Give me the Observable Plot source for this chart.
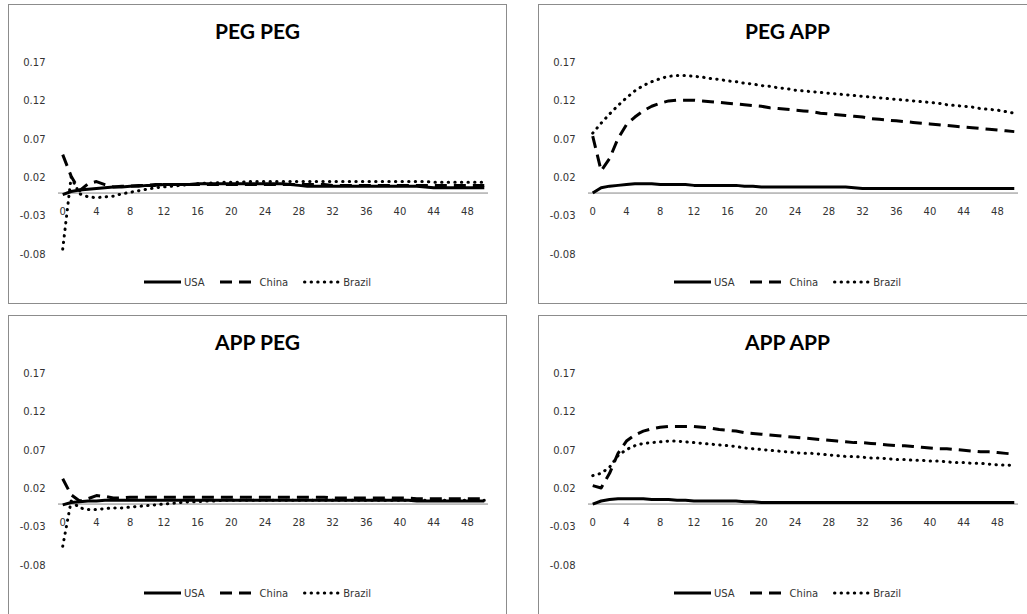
<!DOCTYPE html>
<html>
<head>
<meta charset="utf-8">
<script src="https://cdn.jsdelivr.net/npm/d3@7"></script>
<script src="https://cdn.jsdelivr.net/npm/@observablehq/plot@0.6"></script>
<style>
  html, body { margin: 0; padding: 0; background: #fff; }
  body { position: relative; width: 1027px; height: 614px; overflow: hidden; }
  .panel { position: absolute; box-sizing: border-box; width: 499px; height: 300px;
           border: 1px solid #8c8c8c; background: #fff; }
  .panel svg.chart { position: absolute; left: 0; top: 0; }
  .title { position: absolute; left: 0; right: 0; top: 14px; text-align: center;
           font: bold 21px Lato, "Open Sans", sans-serif; line-height: 24px; color: #000; }
  .legend { position: absolute; left: 0; right: 0; top: 270px; height: 14px; display: flex;
            justify-content: center; align-items: center;
            font: 10px "DejaVu Sans", sans-serif; color: #333; }
  .legend .item { display: flex; align-items: center; }
  .legend .item svg { display: block; margin-right: 3px; }
  .legend .item + .item { margin-left: 15px; }
</style>
</head>
<body>
<script>
// Impulse responses, horizon 0..50, for USA, China and Brazil under four regimes.
const horizon = d3.range(51);
const countries = ["USA", "China", "Brazil"];
const xTicks = [0, 4, 8, 12, 16, 20, 24, 28, 32, 36, 40, 44, 48];
const yTicks = [-0.08, -0.03, 0.02, 0.07, 0.12, 0.17];

const pegPegUSA = [
  -0.002, 0.002, 0.004, 0.005, 0.006, 0.007, 0.008, 0.008, 0.009, 0.009,
  0.010, 0.010, 0.011, 0.011, 0.011, 0.011, 0.012, 0.012, 0.012, 0.012,
  0.012, 0.012, 0.012, 0.012, 0.012, 0.012, 0.012, 0.011, 0.010, 0.009,
  0.009, 0.009, 0.009, 0.009, 0.009, 0.009, 0.009, 0.009, 0.009, 0.009,
  0.009, 0.009, 0.009, 0.008, 0.007, 0.007, 0.007, 0.007, 0.007, 0.007,
  0.007];
const pegPegChina = [
  0.050, 0.022, 0.003, 0.012, 0.015, 0.011, 0.008, 0.009, 0.009, 0.010,
  0.010, 0.011, 0.011, 0.011, 0.011, 0.011, 0.011, 0.011, 0.011, 0.011,
  0.011, 0.011, 0.011, 0.011, 0.011, 0.011, 0.011, 0.011, 0.011, 0.011,
  0.011, 0.011, 0.010, 0.010, 0.010, 0.010, 0.010, 0.010, 0.010, 0.010,
  0.010, 0.010, 0.010, 0.010, 0.010, 0.010, 0.010, 0.010, 0.010, 0.010,
  0.010];
const pegPegBrazil = [
  -0.073, 0.021, -0.001, -0.005, -0.006, -0.005, -0.004, -0.001, 0.001, 0.003,
  0.005, 0.007, 0.008, 0.009, 0.010, 0.011, 0.012, 0.013, 0.013, 0.014,
  0.014, 0.014, 0.015, 0.015, 0.015, 0.015, 0.015, 0.015, 0.015, 0.015,
  0.015, 0.015, 0.015, 0.015, 0.015, 0.015, 0.015, 0.015, 0.015, 0.015,
  0.015, 0.015, 0.015, 0.015, 0.014, 0.014, 0.014, 0.014, 0.014, 0.014,
  0.014];

const pegAppUSA = [
  0.000, 0.007, 0.009, 0.010, 0.011, 0.012, 0.012, 0.012, 0.011, 0.011,
  0.011, 0.011, 0.010, 0.010, 0.010, 0.010, 0.010, 0.010, 0.009, 0.009,
  0.008, 0.008, 0.008, 0.008, 0.008, 0.008, 0.008, 0.008, 0.008, 0.008,
  0.008, 0.007, 0.006, 0.006, 0.006, 0.006, 0.006, 0.006, 0.006, 0.006,
  0.006, 0.006, 0.006, 0.006, 0.006, 0.006, 0.006, 0.006, 0.006, 0.006,
  0.006];
const pegAppChina = [
  0.074, 0.029, 0.045, 0.071, 0.089, 0.099, 0.107, 0.113, 0.117, 0.120,
  0.121, 0.121, 0.121, 0.120, 0.119, 0.118, 0.117, 0.116, 0.115, 0.114,
  0.113, 0.111, 0.110, 0.109, 0.108, 0.107, 0.106, 0.104, 0.103, 0.102,
  0.101, 0.100, 0.099, 0.097, 0.096, 0.095, 0.094, 0.093, 0.092, 0.091,
  0.090, 0.089, 0.088, 0.087, 0.086, 0.085, 0.084, 0.083, 0.082, 0.081,
  0.080];
const pegAppBrazil = [
  0.078, 0.091, 0.103, 0.114, 0.124, 0.133, 0.140, 0.145, 0.149, 0.152,
  0.153, 0.153, 0.152, 0.151, 0.149, 0.148, 0.146, 0.145, 0.143, 0.142,
  0.140, 0.139, 0.137, 0.136, 0.134, 0.133, 0.132, 0.131, 0.130, 0.129,
  0.128, 0.127, 0.126, 0.125, 0.124, 0.123, 0.122, 0.121, 0.120, 0.119,
  0.118, 0.117, 0.115, 0.114, 0.113, 0.112, 0.110, 0.109, 0.108, 0.106,
  0.104];

const appPegUSA = [
  -0.001, 0.002, 0.003, 0.004, 0.004, 0.005, 0.005, 0.005, 0.005, 0.005,
  0.005, 0.005, 0.005, 0.005, 0.005, 0.005, 0.005, 0.005, 0.005, 0.005,
  0.005, 0.005, 0.005, 0.005, 0.005, 0.005, 0.005, 0.005, 0.005, 0.005,
  0.005, 0.005, 0.005, 0.005, 0.005, 0.005, 0.005, 0.005, 0.005, 0.005,
  0.005, 0.005, 0.004, 0.004, 0.004, 0.004, 0.004, 0.004, 0.004, 0.004,
  0.004];
const appPegChina = [
  0.033, 0.012, 0.004, 0.007, 0.011, 0.010, 0.008, 0.008, 0.009, 0.009,
  0.009, 0.009, 0.009, 0.009, 0.009, 0.009, 0.009, 0.009, 0.009, 0.009,
  0.009, 0.009, 0.009, 0.009, 0.009, 0.009, 0.009, 0.009, 0.009, 0.009,
  0.009, 0.009, 0.008, 0.008, 0.008, 0.008, 0.008, 0.008, 0.008, 0.008,
  0.008, 0.008, 0.007, 0.007, 0.007, 0.007, 0.007, 0.007, 0.007, 0.007,
  0.007];
const appPegBrazil = [
  -0.055, 0.004, -0.005, -0.007, -0.007, -0.006, -0.005, -0.005, -0.004, -0.003,
  -0.002, -0.001, 0.000, 0.001, 0.002, 0.003, 0.003, 0.004, 0.004, 0.005,
  0.005, 0.005, 0.005, 0.005, 0.005, 0.005, 0.005, 0.005, 0.005, 0.005,
  0.005, 0.005, 0.005, 0.005, 0.005, 0.005, 0.005, 0.005, 0.005, 0.005,
  0.005, 0.005, 0.005, 0.005, 0.005, 0.005, 0.005, 0.005, 0.005, 0.005,
  0.005];

const appAppUSA = [
  0.000, 0.004, 0.006, 0.007, 0.007, 0.007, 0.007, 0.006, 0.006, 0.006,
  0.005, 0.005, 0.004, 0.004, 0.004, 0.004, 0.004, 0.004, 0.003, 0.003,
  0.002, 0.002, 0.002, 0.002, 0.002, 0.002, 0.002, 0.002, 0.002, 0.002,
  0.002, 0.002, 0.002, 0.002, 0.002, 0.002, 0.002, 0.002, 0.002, 0.002,
  0.002, 0.002, 0.002, 0.002, 0.002, 0.002, 0.002, 0.002, 0.002, 0.002,
  0.002];
const appAppChina = [
  0.024, 0.021, 0.040, 0.066, 0.082, 0.090, 0.095, 0.098, 0.100, 0.101,
  0.101, 0.101, 0.101, 0.100, 0.099, 0.097, 0.096, 0.095, 0.093, 0.092,
  0.091, 0.090, 0.089, 0.088, 0.087, 0.086, 0.085, 0.084, 0.083, 0.082,
  0.081, 0.080, 0.080, 0.079, 0.078, 0.077, 0.076, 0.076, 0.075, 0.074,
  0.073, 0.072, 0.072, 0.071, 0.070, 0.069, 0.068, 0.068, 0.067, 0.066,
  0.065];
const appAppBrazil = [
  0.037, 0.040, 0.048, 0.063, 0.071, 0.076, 0.079, 0.080, 0.081, 0.082,
  0.082, 0.081, 0.080, 0.079, 0.078, 0.077, 0.076, 0.075, 0.073, 0.072,
  0.071, 0.070, 0.069, 0.068, 0.067, 0.066, 0.066, 0.065, 0.064, 0.063,
  0.062, 0.062, 0.061, 0.060, 0.060, 0.059, 0.058, 0.058, 0.057, 0.057,
  0.056, 0.056, 0.055, 0.054, 0.054, 0.053, 0.053, 0.052, 0.051, 0.051,
  0.050];

const panelTitles = ["PEG PEG", "PEG APP", "APP PEG", "APP APP"];
const panelSeries = [
  [pegPegUSA, pegPegChina, pegPegBrazil],
  [pegAppUSA, pegAppChina, pegAppBrazil],
  [appPegUSA, appPegChina, appPegBrazil],
  [appAppUSA, appAppChina, appAppBrazil]
];

// Line styles per country: solid, dashed, round-dotted
const lineStyle = {
  USA:    {dash: null,     cap: "butt"},
  China:  {dash: "12,7",   cap: "butt"},
  Brazil: {dash: "0.4,6.2", cap: "round"}
};
const lineWidth = 3;

const boxes = [
  {left: 8, top: 4},
  {left: 538, top: 4},
  {left: 8, top: 315},
  {left: 538, top: 315}
];

function legendSwatch(country) {
  const ns = "http://www.w3.org/2000/svg";
  const svg = document.createElementNS(ns, "svg");
  svg.setAttribute("width", 37);
  svg.setAttribute("height", 6);
  const line = document.createElementNS(ns, "line");
  const st = lineStyle[country];
  const pad = st.cap === "round" ? 1.5 : 0;
  line.setAttribute("x1", pad); line.setAttribute("x2", 37 - pad);
  line.setAttribute("y1", 3); line.setAttribute("y2", 3);
  line.setAttribute("stroke", "#000");
  line.setAttribute("stroke-width", lineWidth);
  line.setAttribute("stroke-linecap", st.cap);
  if (st.dash) line.setAttribute("stroke-dasharray", st.dash);
  svg.appendChild(line);
  return svg;
}

panelTitles.forEach((title, p) => {
  const box = document.createElement("div");
  box.className = "panel";
  box.style.left = boxes[p].left + "px";
  box.style.top = boxes[p].top + "px";

  const lines = countries.map((c, k) =>
    Plot.line(horizon, {
      x: (d) => d,
      y: (d) => panelSeries[p][k][d],
      stroke: "#000",
      strokeWidth: lineWidth,
      strokeLinejoin: "round",
      strokeLinecap: lineStyle[c].cap,
      strokeDasharray: lineStyle[c].dash || undefined
    })
  );

  const chart = Plot.plot({
    width: 497,
    height: 298,
    marginLeft: 49,
    marginRight: 18,
    marginTop: 57,
    marginBottom: 49,
    x: {domain: [-0.5, 50.5], axis: null},
    y: {domain: [-0.08, 0.17], axis: null},
    style: {fontFamily: "DejaVu Sans, sans-serif", fontSize: "10px", color: "#333", background: "transparent", overflow: "visible"},
    marks: [
      Plot.ruleY([0], {stroke: "#868686", strokeWidth: 1}),
      Plot.text(yTicks, {y: (d) => d, frameAnchor: "left", dx: -13, textAnchor: "end",
                         text: (d) => d.toFixed(2), fill: "#333", fontSize: 10}),
      Plot.text(xTicks, {x: (d) => d, y: 0, dy: 19, text: (d) => String(d), fill: "#333", fontSize: 10}),
      ...lines
    ]
  });
  chart.classList.add("chart");
  box.appendChild(chart);

  const t = document.createElement("div");
  t.className = "title";
  t.textContent = title;
  box.appendChild(t);

  const legend = document.createElement("div");
  legend.className = "legend";
  countries.forEach((c) => {
    const item = document.createElement("div");
    item.className = "item";
    item.appendChild(legendSwatch(c));
    const label = document.createElement("span");
    label.textContent = c;
    item.appendChild(label);
    legend.appendChild(item);
  });
  box.appendChild(legend);

  document.body.appendChild(box);
});
</script>
</body>
</html>
